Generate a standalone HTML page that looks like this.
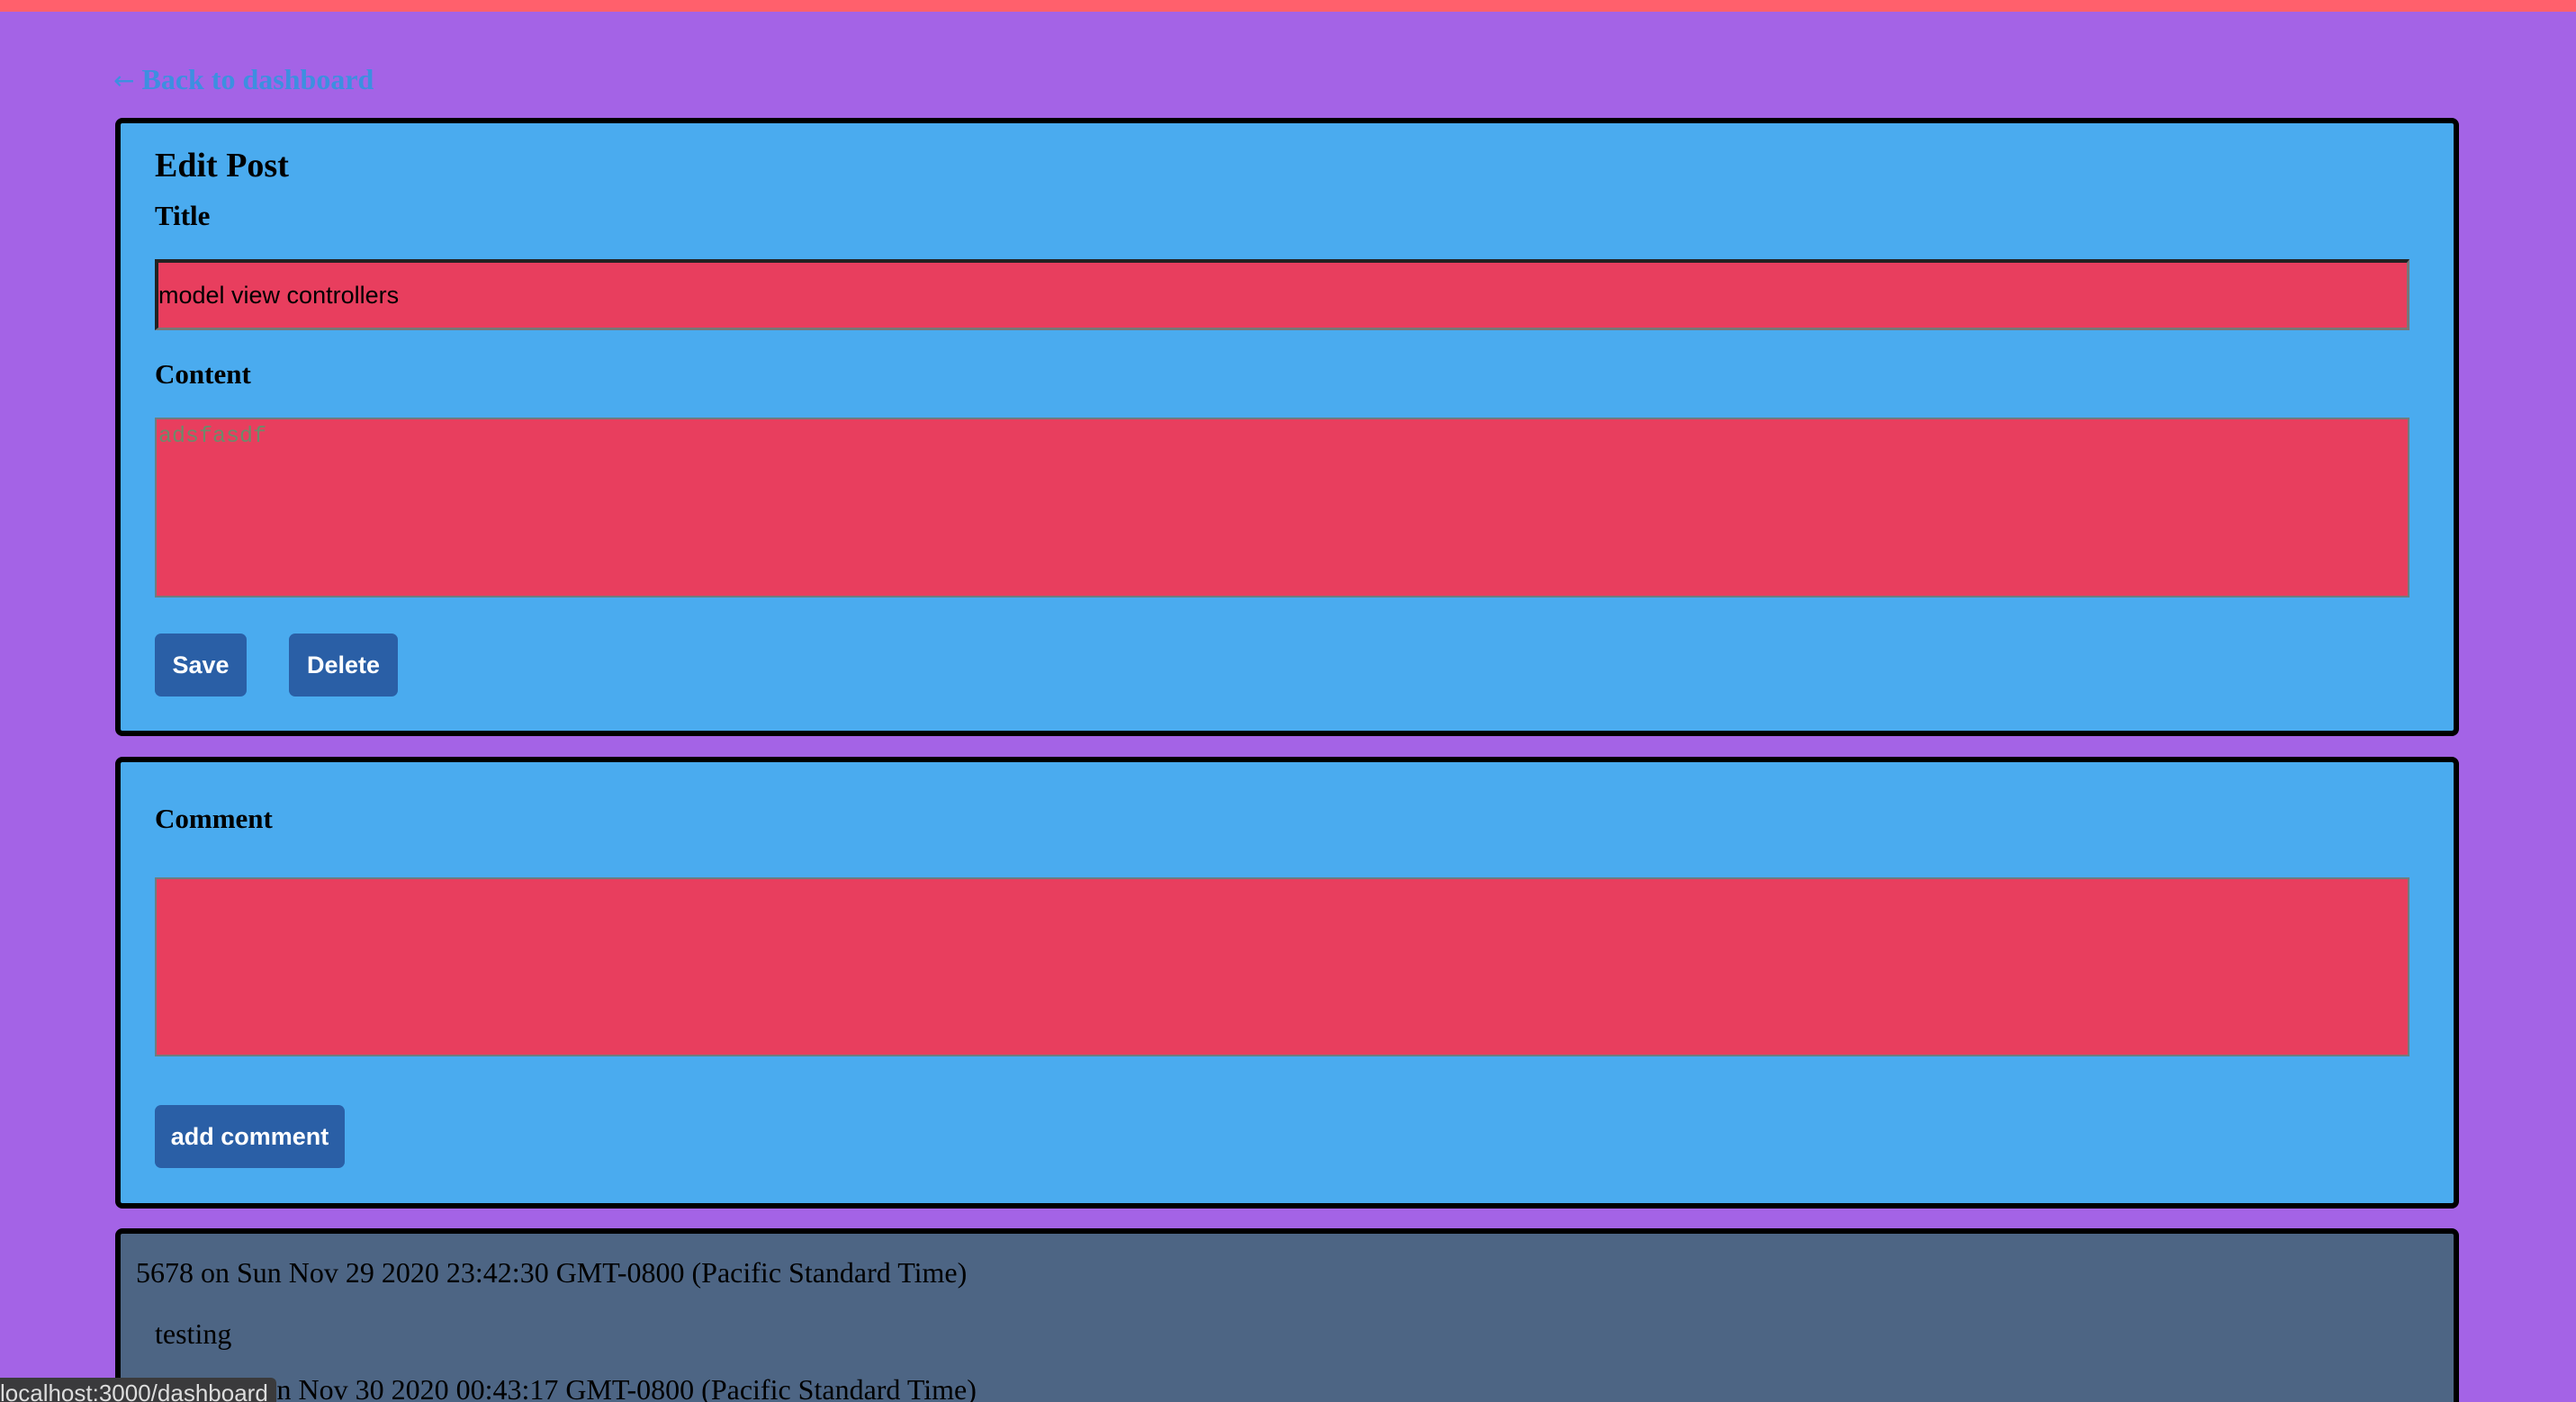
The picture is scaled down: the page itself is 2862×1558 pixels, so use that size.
<!DOCTYPE html>
<html><head><meta charset="utf-8"><style>
html,body{margin:0;padding:0;width:2862px;height:1558px;overflow:hidden}
body{background:#a463e6;position:relative;font-family:"Liberation Serif",serif}
#wrap{position:absolute;left:0;top:0;width:2862px;height:1558px;overflow:hidden}
.abs{position:absolute}
.card{position:absolute;left:128px;width:2592px;border:6px solid #000;border-radius:8px;background:#4aabef}
.lbl{position:absolute;left:172px;font-weight:bold;font-size:31px;line-height:1;color:#000}
.field{position:absolute;left:172px;width:2505px;background:#e83e5e;box-sizing:border-box}
.btn{position:absolute;background:#2a5fa6;color:#fff;font-family:"Liberation Sans",sans-serif;font-weight:bold;font-size:27px;border-radius:7px;display:flex;align-items:center;justify-content:center}
.txt{position:absolute;font-size:32px;line-height:1;color:#000;white-space:nowrap}
</style></head><body>
<div id="wrap">
<div class="abs" style="left:0;top:0;width:2862px;height:13px;background:#ff606c"></div>
<div class="abs" style="left:126px;top:72px;font-size:32px;font-weight:bold;color:#3d8fe0;line-height:1;white-space:nowrap"><span style="font-family:'DejaVu Sans',sans-serif;font-weight:normal;font-size:28px">←</span> Back to dashboard</div>

<div class="card" style="top:131px;height:675px"></div>
<div class="txt" style="left:172px;top:165px;font-size:38px;font-weight:bold">Edit Post</div>
<div class="lbl" style="top:224px">Title</div>
<div class="field" style="top:288px;height:79px;border-top:4px solid #222;border-left:4px solid #222;border-bottom:3px solid #777;border-right:3px solid #777;font-family:'Liberation Sans',sans-serif;font-size:27px;display:flex;align-items:center;padding-left:0">model view controllers</div>
<div class="lbl" style="top:400px">Content</div>
<div class="field" style="top:464px;height:200px;border:2px solid #6e7c80;font-family:'Liberation Mono',monospace;font-size:25px;color:#6d8a6a;padding:4px 0 0 2px">adsfasdf</div>
<div class="btn" style="left:172px;top:704px;width:102px;height:70px">Save</div>
<div class="btn" style="left:321px;top:704px;width:121px;height:70px">Delete</div>

<div class="card" style="top:841px;height:490px"></div>
<div class="lbl" style="top:894px">Comment</div>
<div class="field" style="top:975px;height:199px;border:2px solid #6e7c80"></div>
<div class="btn" style="left:172px;top:1228px;width:211px;height:70px">add comment</div>

<div class="card" style="top:1365px;height:187px;border-bottom:none;border-radius:8px 8px 0 0;background:#4d6584"></div>
<div class="txt" style="left:151px;top:1398px">5678 on Sun Nov 29 2020 23:42:30 GMT-0800 (Pacific Standard Time)</div>
<div class="txt" style="left:172px;top:1466px">testing</div>
<div class="txt" style="left:151px;top:1528px;height:30px;overflow:hidden">5678 on Mon Nov 30 2020 00:43:17 GMT-0800 (Pacific Standard Time)</div>

<div class="abs" style="left:0;top:1531px;width:307px;height:27px;background:#3a3a3c;border-top-right-radius:6px;color:#ddd;font-family:'Liberation Sans',sans-serif;font-size:26px;line-height:34px;white-space:nowrap;overflow:hidden">localhost:3000/dashboard</div>
</div>
</body></html>
